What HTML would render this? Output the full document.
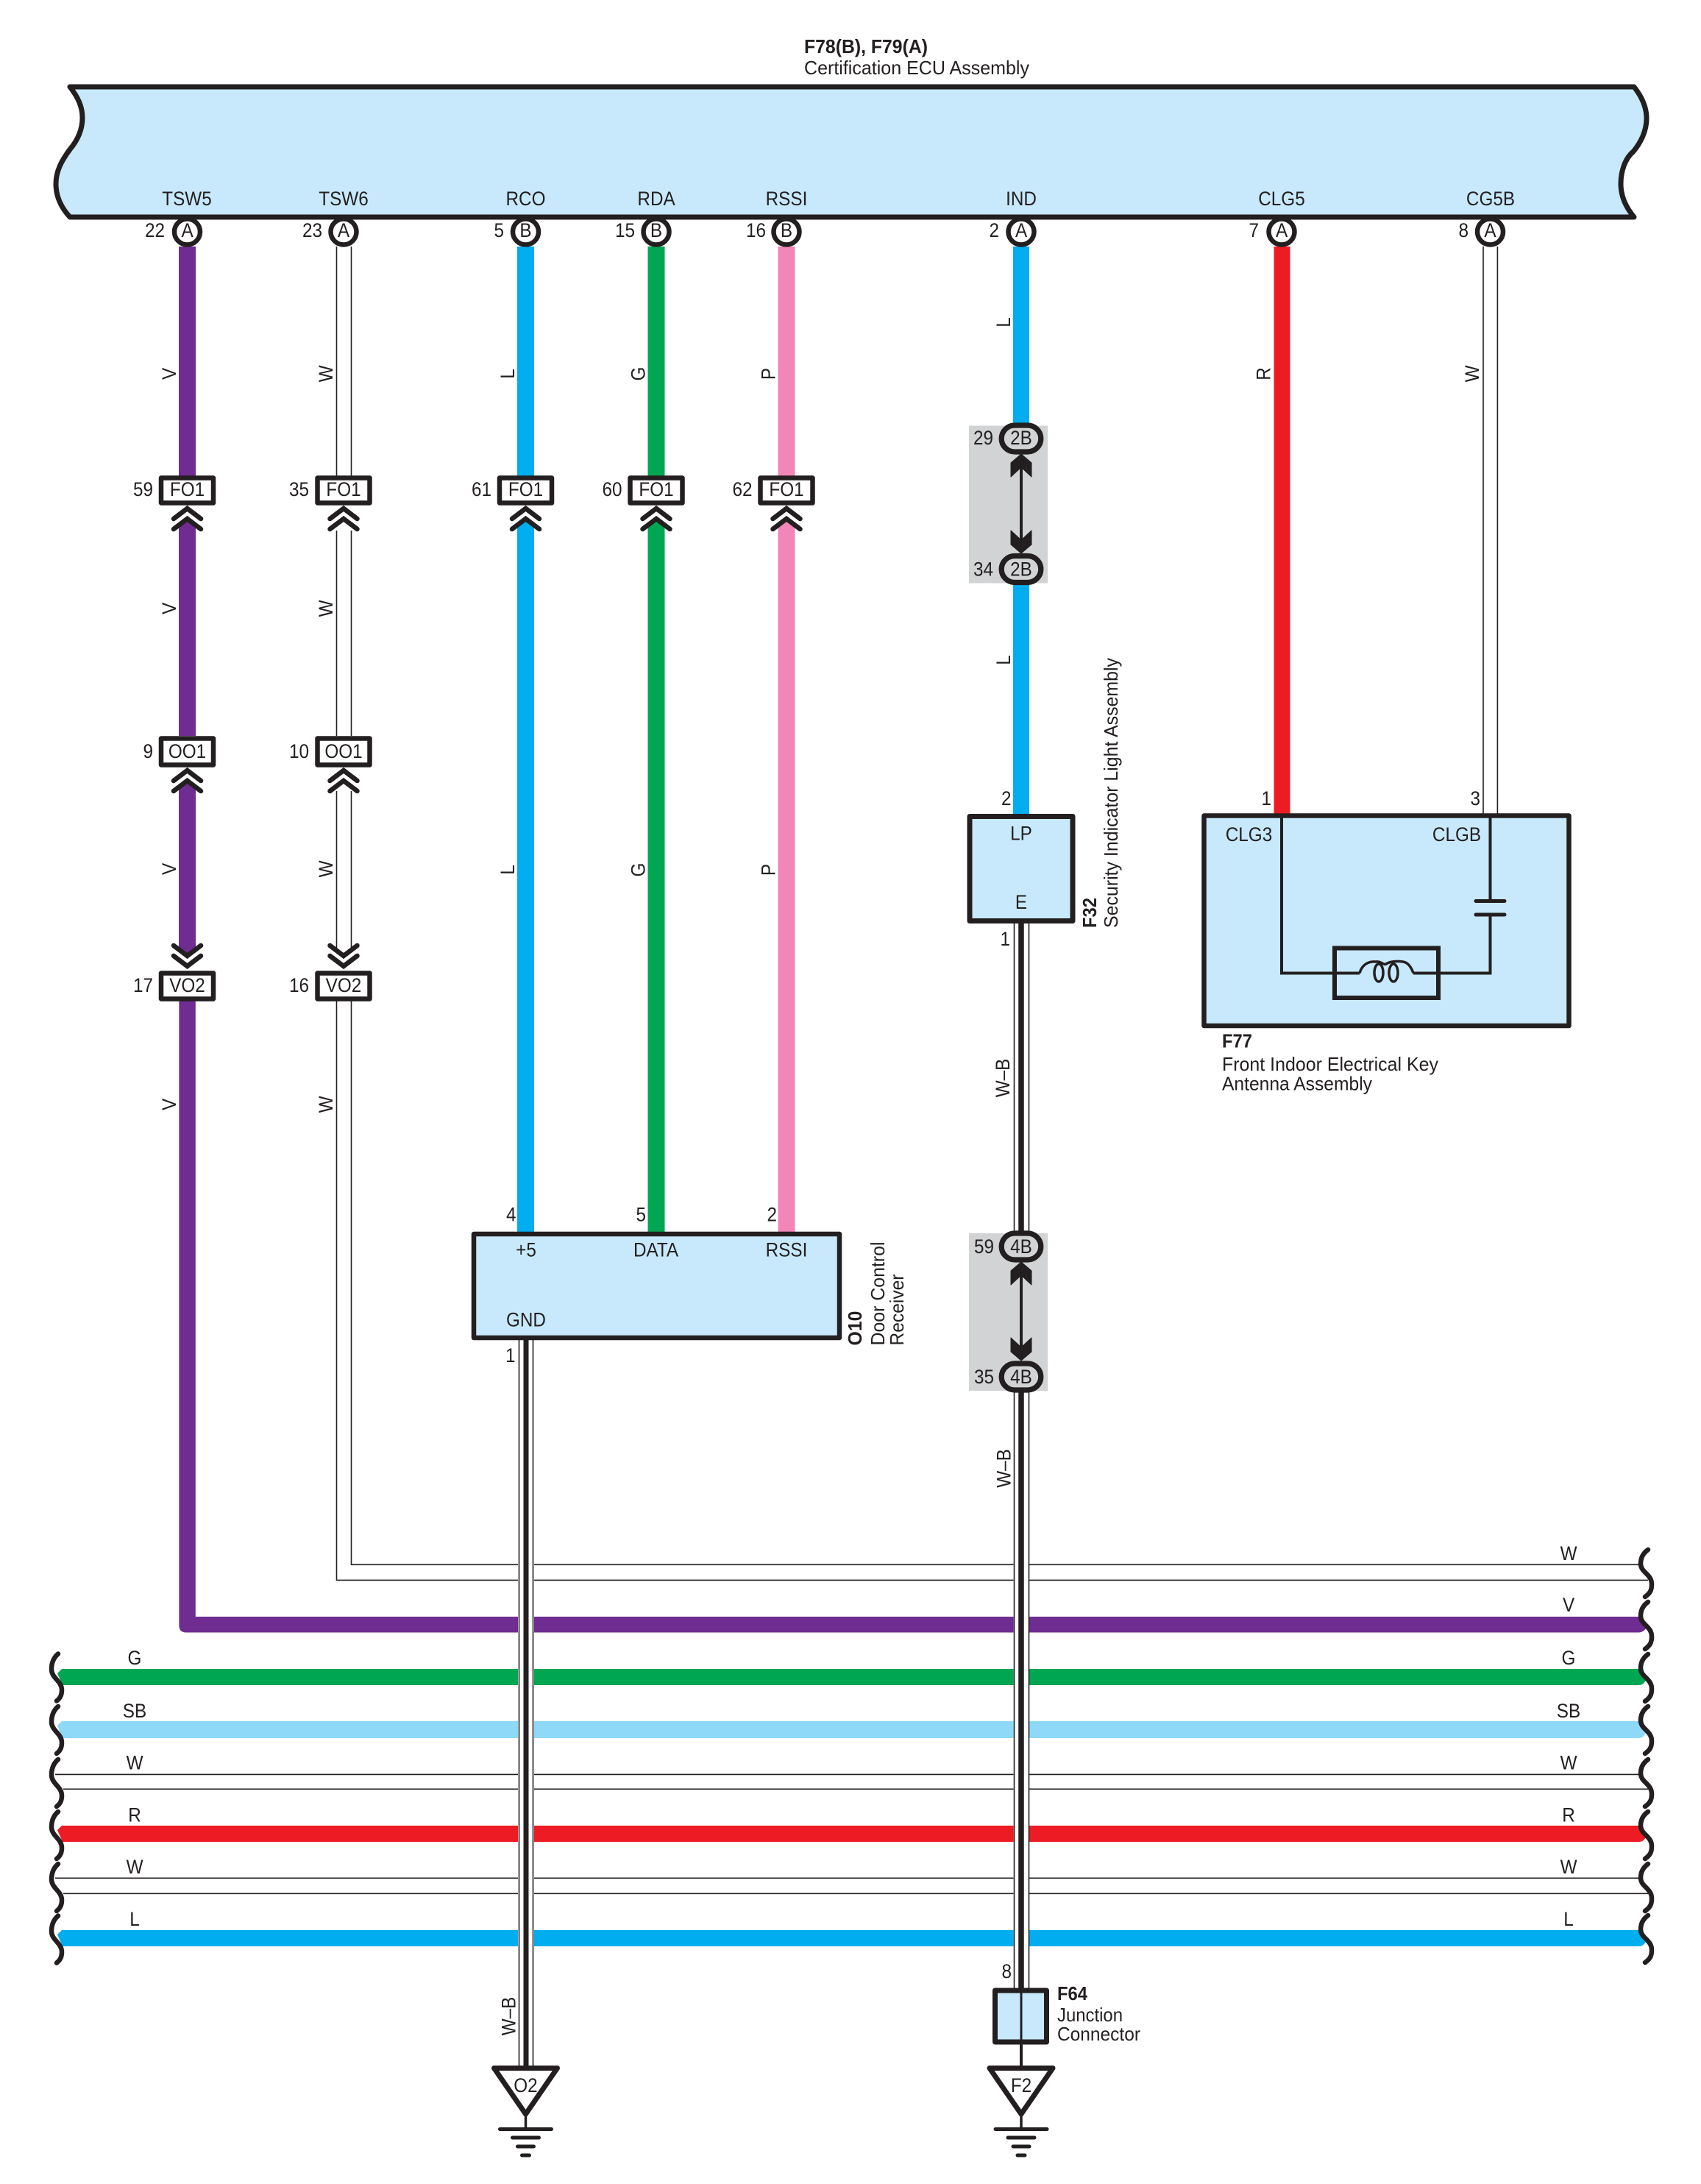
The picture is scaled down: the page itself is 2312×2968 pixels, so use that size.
<!DOCTYPE html>
<html>
<head>
<meta charset="utf-8">
<style>
html,body{margin:0;padding:0;background:#fff;width:2312px;height:2968px;overflow:hidden}
svg{display:block}
text{font-family:"Liberation Sans",sans-serif;font-size:27px;fill:#231f20;text-anchor:middle;transform-box:fill-box;transform-origin:center;transform:translateY(-1px) scaleX(.9)}
text.e{text-anchor:end;transform-origin:right center}
text.n{text-anchor:start;transform:translateY(-1px);font-size:26px}
g[transform] text{transform:scaleX(.9)}
g[transform] text.n{transform:none}
text.b{font-weight:bold}
.k{stroke:#231f20;fill:none}
.l{stroke:#231f20;stroke-width:1.6;fill:none}
</style>
</head>
<body>
<svg xmlns="http://www.w3.org/2000/svg" width="2312" height="2968" viewBox="0 0 2312 2968">
<defs>
<path id="cu" class="k" stroke-width="6.500" stroke-linecap="round" d="M-18.500 19L0 5L18.500 19M-18.500 33L0 19L18.500 33"/>
<path id="cd" class="k" stroke-width="6.500" stroke-linecap="round" d="M-18.500 -34L0 -20L18.500 -34M-18.500 -20L0 -6L18.500 -20"/>
<path id="bl" class="k" stroke-width="6.500" stroke-linecap="round" d="M79 3C72 9 70 16 70 24C70 36 84 40 84 52C84 59 82 63 77 67"/>
<g id="gnd">
<polygon points="-43,3.500 43,3.500 0,66" fill="#fff" stroke="#231f20" stroke-width="7" stroke-linejoin="round"/>
<path class="k" stroke-width="3.500" d="M0 66V86"/>
<path class="k" stroke-width="5" stroke-linecap="round" d="M-35 86.500H35M-18 98H18M-11 110H11M-5 122H5"/>
</g>
<path id="ah" fill="#231f20" stroke="#231f20" stroke-width="1" stroke-linejoin="round" d="M0 0L14 12V31L0 18L-14 31V12Z"/>
<path id="ad" fill="#231f20" stroke="#231f20" stroke-width="1" stroke-linejoin="round" d="M0 0L14 -12V-31L0 -18L-14 -31V-12Z"/>
</defs>

<!-- horizontal bus wires -->
<path class="l" d="M457.500 1360V2147.400H2240M477.500 1360V2126.300H2229"/>
<path fill="#6f2c91" d="M243.400 1360V2209Q243.400 2218.500 253 2218.500H2228Q2234 2218 2238 2212L2230 2197H265.800V1360Z"/>
<path fill="#00a651" d="M84 2268H2230L2238 2282Q2234 2290 2228 2290H85L78 2274Z"/>
<path fill="#8ed8f8" d="M84 2339H2230L2238 2353Q2234 2362 2228 2362H85L78 2345Z"/>
<path class="l" d="M75 2411.400H2229M86 2431.300H2240"/>
<path fill="#ed1c24" d="M84 2481H2230L2238 2495Q2234 2503 2228 2503H85L78 2487Z"/>
<path class="l" d="M75 2552.300H2229M86 2573.300H2240"/>
<path fill="#00aeef" d="M84 2623H2230L2238 2637Q2234 2645 2228 2645H85L78 2629Z"/>

<!-- wave breaks -->
<use href="#bl" y="2244.500"/><use href="#bl" y="2316"/><use href="#bl" y="2388"/><use href="#bl" y="2459"/><use href="#bl" y="2530"/><use href="#bl" y="2600.500"/>
<g class="k" stroke-width="6.500" stroke-linecap="round" fill="none">
<path d="M2240 2106C2233 2111 2230 2117 2230 2125C2230 2137 2245 2139 2245 2153C2245 2161 2243 2165 2236 2170"/>
<path d="M2240 2177C2233 2182 2230 2188 2230 2196C2230 2208 2245 2210 2245 2224C2245 2232 2243 2236 2236 2241"/>
<path d="M2240 2248C2233 2253 2230 2259 2230 2267C2230 2279 2245 2281 2245 2295C2245 2303 2243 2307 2236 2312"/>
<path d="M2240 2319C2233 2324 2230 2330 2230 2338C2230 2350 2245 2352 2245 2366C2245 2374 2243 2378 2236 2383"/>
<path d="M2240 2391C2233 2396 2230 2402 2230 2410C2230 2422 2245 2424 2245 2438C2245 2446 2243 2450 2236 2455"/>
<path d="M2240 2462C2233 2467 2230 2473 2230 2481C2230 2493 2245 2495 2245 2509C2245 2517 2243 2521 2236 2526"/>
<path d="M2240 2533C2233 2538 2230 2544 2230 2552C2230 2564 2245 2566 2245 2580C2245 2588 2243 2592 2236 2597"/>
<path d="M2240 2603C2233 2608 2230 2614 2230 2622C2230 2634 2245 2636 2245 2650C2245 2658 2243 2662 2236 2667"/>
</g>

<!-- vertical wires: coloured -->
<rect x="243" y="335" width="23" height="312" fill="#6f2c91"/>
<path fill="#6f2c91" d="M243 717L254.500 707L266 717V1000H243Z"/>
<path fill="#6f2c91" d="M243 1073L254.500 1063L266 1073V1289L254.500 1299L243 1289Z"/>
<rect x="703" y="335" width="23" height="312" fill="#00aeef"/>
<path fill="#00aeef" d="M703 717L714.500 707L726 717V1678H703Z"/>
<rect x="880.500" y="335" width="23" height="312" fill="#00a651"/>
<path fill="#00a651" d="M880.500 717L892 707L903.500 717V1678H880.500Z"/>
<rect x="1057.500" y="335" width="23" height="312" fill="#f287b7"/>
<path fill="#f287b7" d="M1057.500 717L1069 707L1080.500 717V1678H1057.500Z"/>
<rect x="1731.500" y="335" width="22" height="772" fill="#ed1c24"/>

<!-- gray splice panels -->
<rect x="1317" y="578.500" width="107" height="214" fill="#d1d3d4"/>
<rect x="1317" y="1676" width="107" height="214" fill="#d1d3d4"/>
<rect x="1377" y="335" width="22" height="242" fill="#00aeef"/>
<rect x="1377" y="792" width="22" height="316" fill="#00aeef"/>

<!-- white vertical wires -->
<path class="l" d="M457.500 335V647M477.500 335V647M457.500 721V1000M477.500 721V1000M457.500 1075V1291M477.500 1075V1291"/>
<path class="l" d="M2016 335V1107M2035.400 335V1107"/>

<!-- W-B ground wires -->
<rect x="704" y="1820" width="22" height="988" fill="#fff"/>
<path class="l" d="M705.500 1820V2808M724.500 1820V2808"/>
<path class="k" stroke-width="7" d="M715 1820V2808"/>
<rect x="1377.500" y="1254" width="21.500" height="422" fill="#fff"/>
<rect x="1377.500" y="1890" width="21.500" height="814" fill="#fff"/>
<path class="l" d="M1378.500 1254V1676M1398.500 1254V1676M1378.500 1890V2704M1398.500 1890V2704"/>
<path class="k" stroke-width="7.500" d="M1388 1254V1676M1388 1890V2704"/>

<!-- ECU terminal circles -->
<g fill="#fff" stroke="#231f20" stroke-width="6.500">
<circle cx="254.500" cy="315" r="17.500"/><circle cx="467" cy="315" r="17.500"/><circle cx="714.500" cy="315" r="17.500"/><circle cx="892" cy="315" r="17.500"/><circle cx="1069" cy="315" r="17.500"/><circle cx="1388" cy="315" r="17.500"/><circle cx="1742" cy="315" r="17.500"/><circle cx="2025.500" cy="315" r="17.500"/>
</g>
<!-- ECU -->
<path d="M95 118H2221C2232 132 2238 147 2238 161C2238 178 2230 194 2220 206C2208 216 2203 234 2203 250C2203 268 2211 283 2221 295H95C84 283 76 268 76 250C76 232 84 218 95 203C106 190 112 175 112 160C112 145 106 132 95 118Z" fill="#c7e9fb" stroke="#231f20" stroke-width="7" stroke-linejoin="round"/>

<!-- Title -->
<text class="n b" x="1093" y="73" textLength="168" lengthAdjust="spacingAndGlyphs">F78(B), F79(A)</text>
<text class="n" x="1093" y="102" textLength="306" lengthAdjust="spacingAndGlyphs">Certification ECU Assembly</text>

<!-- ECU labels -->
<text x="254" y="280">TSW5</text><text x="467" y="280">TSW6</text><text x="714.500" y="280">RCO</text><text x="892" y="280">RDA</text><text x="1069" y="280">RSSI</text><text x="1388" y="280">IND</text><text x="1742" y="280">CLG5</text><text x="2026" y="280">CG5B</text>
<text x="254.500" y="323">A</text><text x="467" y="323">A</text><text x="714.500" y="323">B</text><text x="892" y="323">B</text><text x="1069" y="323">B</text><text x="1388" y="323">A</text><text x="1742" y="323">A</text><text x="2025.500" y="323">A</text>
<text class="e" x="224" y="323">22</text><text class="e" x="438" y="323">23</text><text class="e" x="685" y="323">5</text><text class="e" x="863" y="323">15</text><text class="e" x="1041" y="323">16</text><text class="e" x="1358" y="323">2</text><text class="e" x="1711" y="323">7</text><text class="e" x="1996" y="323">8</text>

<!-- connector boxes -->
<g fill="#fff" stroke="#231f20" stroke-width="6.500" stroke-linejoin="round">
<rect x="219" y="649.500" width="71" height="34"/><rect x="431.500" y="649.500" width="71" height="34"/><rect x="679" y="649.500" width="71" height="34"/><rect x="856.500" y="649.500" width="71" height="34"/><rect x="1033.500" y="649.500" width="71" height="34"/>
<rect x="219" y="1003.500" width="71" height="36"/><rect x="431.500" y="1003.500" width="71" height="36"/>
<rect x="219" y="1322.500" width="71" height="35"/><rect x="431.500" y="1322.500" width="71" height="35"/>
</g>
<use href="#cu" x="254.500" y="686"/><use href="#cu" x="467" y="686"/><use href="#cu" x="714.500" y="686"/><use href="#cu" x="892" y="686"/><use href="#cu" x="1069" y="686"/>
<use href="#cu" x="254.500" y="1042"/><use href="#cu" x="467" y="1042"/>
<use href="#cd" x="254.500" y="1319"/><use href="#cd" x="467" y="1319"/>
<text x="254.500" y="675">FO1</text><text x="467" y="675">FO1</text><text x="714.500" y="675">FO1</text><text x="892" y="675">FO1</text><text x="1069" y="675">FO1</text>
<text x="254.500" y="1031">OO1</text><text x="467" y="1031">OO1</text>
<text x="254.500" y="1349">VO2</text><text x="467" y="1349">VO2</text>
<text class="e" x="208" y="675">59</text><text class="e" x="420" y="675">35</text><text class="e" x="668" y="675">61</text><text class="e" x="845.500" y="675">60</text><text class="e" x="1022.500" y="675">62</text>
<text class="e" x="208" y="1031">9</text><text class="e" x="420" y="1031">10</text>
<text class="e" x="208" y="1349">17</text><text class="e" x="420" y="1349">16</text>

<!-- rotated wire labels -->
<g transform="translate(239 508) rotate(-90)"><text>V</text></g>
<g transform="translate(452 508) rotate(-90)"><text>W</text></g>
<g transform="translate(699 508) rotate(-90)"><text>L</text></g>
<g transform="translate(876.500 508) rotate(-90)"><text>G</text></g>
<g transform="translate(1053.500 508) rotate(-90)"><text>P</text></g>
<g transform="translate(1373 438) rotate(-90)"><text>L</text></g>
<g transform="translate(1726.500 508) rotate(-90)"><text>R</text></g>
<g transform="translate(2010 508) rotate(-90)"><text>W</text></g>
<g transform="translate(239 827) rotate(-90)"><text>V</text></g>
<g transform="translate(452 827) rotate(-90)"><text>W</text></g>
<g transform="translate(1373 897) rotate(-90)"><text>L</text></g>
<g transform="translate(239 1181) rotate(-90)"><text>V</text></g>
<g transform="translate(452 1181) rotate(-90)"><text>W</text></g>
<g transform="translate(699 1182) rotate(-90)"><text>L</text></g>
<g transform="translate(876.500 1182) rotate(-90)"><text>G</text></g>
<g transform="translate(1053.500 1182) rotate(-90)"><text>P</text></g>
<g transform="translate(239 1501) rotate(-90)"><text>V</text></g>
<g transform="translate(452 1501) rotate(-90)"><text>W</text></g>
<g transform="translate(1372 1465) rotate(-90)"><text>W–B</text></g>
<g transform="translate(1373.500 1995.500) rotate(-90)"><text>W–B</text></g>
<g transform="translate(700.500 2740) rotate(-90)"><text>W–B</text></g>

<!-- 2B / 4B splices -->
<path class="k" stroke-width="4" d="M1388 628V742M1388 1726V1838"/>
<g fill="#d1d3d4" stroke="#231f20" stroke-width="7.300">
<rect x="1361.200" y="578" width="53.600" height="36" rx="18"/>
<rect x="1361.200" y="755.500" width="53.600" height="36" rx="18"/>
<rect x="1361.200" y="1676" width="53.600" height="36" rx="18"/>
<rect x="1361.200" y="1853" width="53.600" height="36" rx="18"/>
</g>
<use href="#ah" x="1388" y="617"/><use href="#ad" x="1388" y="752"/>
<use href="#ah" x="1388" y="1715"/><use href="#ad" x="1388" y="1849"/>
<text x="1388" y="605">2B</text><text x="1388" y="783.500">2B</text><text x="1388" y="1704">4B</text><text x="1388" y="1881">4B</text>
<text class="e" x="1350" y="605">29</text><text class="e" x="1350" y="783.500">34</text><text class="e" x="1351" y="1704">59</text><text class="e" x="1351" y="1881">35</text>

<!-- F32 -->
<rect x="1318" y="1109.500" width="140" height="142" fill="#c7e9fb" stroke="#231f20" stroke-width="7" stroke-linejoin="round"/>
<text x="1388" y="1142.500">LP</text><text x="1388" y="1236">E</text>
<text class="e" x="1374.500" y="1095">2</text><text class="e" x="1373" y="1286">1</text>
<g transform="translate(1490 1261) rotate(-90)"><text class="n b" textLength="41" lengthAdjust="spacingAndGlyphs">F32</text></g>
<g transform="translate(1519 1261) rotate(-90)"><text class="n" textLength="367" lengthAdjust="spacingAndGlyphs">Security Indicator Light Assembly</text></g>

<!-- F77 -->
<rect x="1636.500" y="1108.500" width="496" height="285.500" fill="#c7e9fb" stroke="#231f20" stroke-width="6.500" stroke-linejoin="round"/>
<path class="k" stroke-width="4" d="M1742 1109V1322.500H1848M1921 1322.500H2025.500V1243M2025.500 1109V1224"/>
<path class="k" stroke-width="5" stroke-linecap="round" d="M2006 1224.500H2045M2006 1243H2045"/>
<rect x="1814" y="1288.500" width="141" height="67.500" fill="none" stroke="#231f20" stroke-width="6"/>
<path class="k" stroke-width="3.500" d="M1848 1322.500C1851 1311 1860 1306 1870 1307C1878 1306 1880 1312 1884 1310C1890 1306 1900 1306 1907 1307C1914 1308 1918 1314 1921 1322.500"/>
<ellipse class="k" stroke-width="3.500" cx="1874" cy="1322" rx="6" ry="12"/>
<ellipse class="k" stroke-width="3.500" cx="1894" cy="1322" rx="6" ry="12"/>
<text x="1697.500" y="1144">CLG3</text><text x="1980" y="1144">CLGB</text>
<text class="e" x="1728" y="1095">1</text><text class="e" x="2012" y="1095">3</text>
<text class="n b" x="1661" y="1424.500" textLength="41" lengthAdjust="spacingAndGlyphs">F77</text>
<text class="n" x="1661" y="1456" textLength="294" lengthAdjust="spacingAndGlyphs">Front Indoor Electrical Key</text>
<text class="n" x="1661" y="1482.500" textLength="204" lengthAdjust="spacingAndGlyphs">Antenna Assembly</text>

<!-- O10 -->
<rect x="644" y="1677" width="497" height="141" fill="#c7e9fb" stroke="#231f20" stroke-width="6.500" stroke-linejoin="round"/>
<text x="715" y="1708.500">+5</text><text x="891.500" y="1708.500">DATA</text><text x="1069" y="1708.500">RSSI</text><text x="715" y="1803.500">GND</text>
<text class="e" x="701.500" y="1660.500">4</text><text class="e" x="878" y="1660.500">5</text><text class="e" x="1056" y="1660.500">2</text><text class="e" x="700.500" y="1852">1</text>
<g transform="translate(1171 1828.500) rotate(-90)"><text class="n b" textLength="47" lengthAdjust="spacingAndGlyphs">O10</text></g>
<g transform="translate(1202 1828.500) rotate(-90)"><text class="n" textLength="141" lengthAdjust="spacingAndGlyphs">Door Control</text></g>
<g transform="translate(1228 1828.500) rotate(-90)"><text class="n" textLength="97" lengthAdjust="spacingAndGlyphs">Receiver</text></g>

<!-- F64 -->
<rect x="1352.500" y="2705" width="70" height="70" fill="#c7e9fb" stroke="#231f20" stroke-width="7" stroke-linejoin="round"/>
<path class="k" stroke-width="3" d="M1388 2705V2775"/>
<path class="k" stroke-width="4" d="M1388 2775V2810"/>
<text class="e" x="1375" y="2689">8</text>
<text class="n b" x="1437" y="2719" textLength="41" lengthAdjust="spacingAndGlyphs">F64</text>
<text class="n" x="1437" y="2748" textLength="89" lengthAdjust="spacingAndGlyphs">Junction</text>
<text class="n" x="1437" y="2774" textLength="113" lengthAdjust="spacingAndGlyphs">Connector</text>

<!-- Grounds -->
<use href="#gnd" x="714.500" y="2807"/><use href="#gnd" x="1388" y="2807"/>
<text x="714.500" y="2844">O2</text><text x="1388" y="2844">F2</text>

<!-- bus labels -->
<text x="183" y="2263">G</text><text x="183" y="2335">SB</text><text x="183" y="2405.500">W</text><text x="183" y="2476.500">R</text><text x="183" y="2547">W</text><text x="183" y="2618">L</text>
<text x="2132" y="2121">W</text><text x="2132" y="2191">V</text><text x="2132" y="2263">G</text><text x="2132" y="2335">SB</text><text x="2132" y="2405.500">W</text><text x="2132" y="2476.500">R</text><text x="2132" y="2547">W</text><text x="2132" y="2618">L</text>
</svg>
</body>
</html>
